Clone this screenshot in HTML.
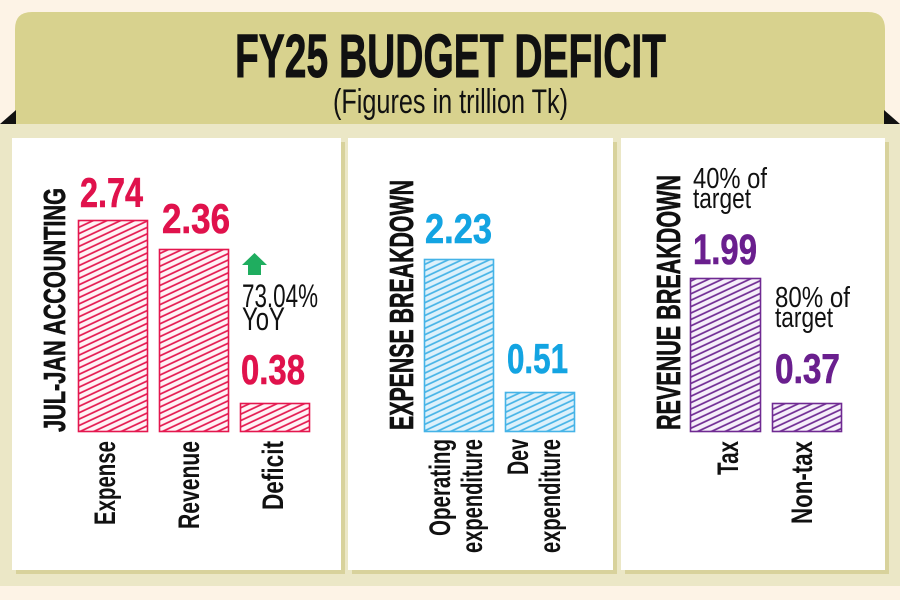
<!DOCTYPE html>
<html>
<head>
<meta charset="utf-8">
<style>
html,body{margin:0;padding:0;background:#fdf3e6;}
svg{display:block;}
.t{font-family:"Liberation Sans Narrow","Liberation Sans",sans-serif;}
</style>
</head>
<body>
<svg width="900" height="600" viewBox="0 0 900 600" xmlns="http://www.w3.org/2000/svg">
<defs>
  <pattern id="hr" patternUnits="userSpaceOnUse" width="12" height="5.8" patternTransform="rotate(-25)">
    <rect width="12" height="5.8" fill="#fff3f6"/>
    <line x1="0" y1="1.5" x2="12" y2="1.5" stroke="#e4174e" stroke-width="1.7"/>
  </pattern>
  <pattern id="hb" patternUnits="userSpaceOnUse" width="12" height="5.8" patternTransform="rotate(-25)">
    <rect width="12" height="5.8" fill="#ddf1fb"/>
    <line x1="0" y1="1.5" x2="12" y2="1.5" stroke="#45b3e7" stroke-width="1.7"/>
  </pattern>
  <pattern id="hp" patternUnits="userSpaceOnUse" width="12" height="5.8" patternTransform="rotate(-25)">
    <rect width="12" height="5.8" fill="#f6effa"/>
    <line x1="0" y1="1.5" x2="12" y2="1.5" stroke="#6f2a92" stroke-width="1.7"/>
  </pattern>
</defs>

<!-- backgrounds -->
<rect x="0" y="0" width="900" height="600" fill="#fdf3e6"/>
<rect x="0" y="124" width="900" height="462" fill="#ebe7c6"/>
<path d="M15 124 L15 29 Q15 12 32 12 L868 12 Q885 12 885 29 L885 124 Z" fill="#d8d28e"/>
<polygon points="0,124 16,124 16,110" fill="#111"/>
<polygon points="884,110 884,124 900,124" fill="#111"/>

<!-- title -->
<text class="t" x="235" y="77" font-size="61" font-weight="bold" fill="#111" stroke="#111" stroke-width="0.9" textLength="431" lengthAdjust="spacingAndGlyphs">FY25 BUDGET DEFICIT</text>
<text class="t" x="333" y="113" font-size="34" fill="#111" textLength="235" lengthAdjust="spacingAndGlyphs">(Figures in trillion Tk)</text>

<!-- panel shadows -->
<rect x="16" y="142" width="329" height="432" fill="#d8d29c"/>
<rect x="352" y="142" width="265" height="432" fill="#d8d29c"/>
<rect x="625" y="142" width="264" height="432" fill="#d8d29c"/>
<!-- panels -->
<rect x="12" y="138" width="329" height="432" fill="#ffffff"/>
<rect x="348" y="138" width="265" height="432" fill="#ffffff"/>
<rect x="621" y="138" width="264" height="432" fill="#ffffff"/>

<!-- ===== Panel 1 ===== -->
<text class="t" transform="translate(65,432) rotate(-90)" font-size="31" font-weight="bold" fill="#111" stroke="#111" stroke-width="0.7" textLength="244" lengthAdjust="spacingAndGlyphs">JUL-JAN ACCOUNTING</text>

<rect x="78.5" y="220.5" width="69" height="211" fill="url(#hr)" stroke="#e4174e" stroke-width="1.6"/>
<rect x="159.5" y="249.5" width="69" height="182" fill="url(#hr)" stroke="#e4174e" stroke-width="1.6"/>
<rect x="240.5" y="403.5" width="69" height="28" fill="url(#hr)" stroke="#e4174e" stroke-width="1.6"/>

<text class="t" x="80" y="207" font-size="42" font-weight="bold" fill="#e0124c" stroke="#e0124c" stroke-width="0.6" textLength="63" lengthAdjust="spacingAndGlyphs">2.74</text>
<text class="t" x="162" y="233" font-size="42" font-weight="bold" fill="#e0124c" stroke="#e0124c" stroke-width="0.6" textLength="68" lengthAdjust="spacingAndGlyphs">2.36</text>
<text class="t" x="241" y="384" font-size="42" font-weight="bold" fill="#e0124c" stroke="#e0124c" stroke-width="0.6" textLength="64" lengthAdjust="spacingAndGlyphs">0.38</text>

<polygon points="242,265 254.5,253 267,265 261,265 261,275 248,275 248,265" fill="#1fad5f"/>
<text class="t" x="242" y="307" font-size="32" fill="#111" textLength="76" lengthAdjust="spacingAndGlyphs">73.04%</text>
<text class="t" x="242" y="330" font-size="32" fill="#111" textLength="43" lengthAdjust="spacingAndGlyphs">YoY</text>

<text class="t" transform="translate(115,441) rotate(-90)" text-anchor="end" font-size="30" font-weight="bold" fill="#111" textLength="84" lengthAdjust="spacingAndGlyphs">Expense</text>
<text class="t" transform="translate(199,441) rotate(-90)" text-anchor="end" font-size="30" font-weight="bold" fill="#111" textLength="88" lengthAdjust="spacingAndGlyphs">Revenue</text>
<text class="t" transform="translate(283,441) rotate(-90)" text-anchor="end" font-size="30" font-weight="bold" fill="#111" textLength="69" lengthAdjust="spacingAndGlyphs">Deficit</text>

<!-- ===== Panel 2 ===== -->
<text class="t" transform="translate(413,430) rotate(-90)" font-size="33" font-weight="bold" fill="#111" stroke="#111" stroke-width="0.7" textLength="250" lengthAdjust="spacingAndGlyphs">EXPENSE BREAKDOWN</text>

<rect x="424.5" y="259.5" width="69" height="172" fill="url(#hb)" stroke="#45b3e7" stroke-width="1.6"/>
<rect x="505.5" y="392.5" width="69" height="39" fill="url(#hb)" stroke="#45b3e7" stroke-width="1.6"/>

<text class="t" x="425" y="243" font-size="42" font-weight="bold" fill="#13a4e2" stroke="#13a4e2" stroke-width="0.6" textLength="67" lengthAdjust="spacingAndGlyphs">2.23</text>
<text class="t" x="507" y="373" font-size="42" font-weight="bold" fill="#13a4e2" stroke="#13a4e2" stroke-width="0.6" textLength="61" lengthAdjust="spacingAndGlyphs">0.51</text>

<text class="t" transform="translate(450,439) rotate(-90)" text-anchor="end" font-size="30" font-weight="bold" fill="#111" textLength="97" lengthAdjust="spacingAndGlyphs">Operating</text>
<text class="t" transform="translate(482,439) rotate(-90)" text-anchor="end" font-size="30" font-weight="bold" fill="#111" textLength="114" lengthAdjust="spacingAndGlyphs">expenditure</text>
<text class="t" transform="translate(528,439) rotate(-90)" text-anchor="end" font-size="30" font-weight="bold" fill="#111" textLength="36" lengthAdjust="spacingAndGlyphs">Dev</text>
<text class="t" transform="translate(560,439) rotate(-90)" text-anchor="end" font-size="30" font-weight="bold" fill="#111" textLength="114" lengthAdjust="spacingAndGlyphs">expenditure</text>

<!-- ===== Panel 3 ===== -->
<text class="t" transform="translate(680,430) rotate(-90)" font-size="33" font-weight="bold" fill="#111" stroke="#111" stroke-width="0.7" textLength="255" lengthAdjust="spacingAndGlyphs">REVENUE BREAKDOWN</text>

<rect x="690.5" y="278.5" width="70" height="153" fill="url(#hp)" stroke="#6f2a92" stroke-width="1.6"/>
<rect x="772.5" y="403.5" width="69" height="28" fill="url(#hp)" stroke="#6f2a92" stroke-width="1.6"/>

<text class="t" x="693" y="188" font-size="29" fill="#111" textLength="74" lengthAdjust="spacingAndGlyphs">40% of</text>
<text class="t" x="693" y="208" font-size="29" fill="#111" textLength="58" lengthAdjust="spacingAndGlyphs">target</text>
<text class="t" x="693" y="264" font-size="43" font-weight="bold" fill="#6a1f8e" stroke="#6a1f8e" stroke-width="0.6" textLength="64" lengthAdjust="spacingAndGlyphs">1.99</text>

<text class="t" x="775" y="307" font-size="29" fill="#111" textLength="75" lengthAdjust="spacingAndGlyphs">80% of</text>
<text class="t" x="775" y="327" font-size="29" fill="#111" textLength="58" lengthAdjust="spacingAndGlyphs">target</text>
<text class="t" x="775" y="383" font-size="42" font-weight="bold" fill="#6a1f8e" stroke="#6a1f8e" stroke-width="0.6" textLength="65" lengthAdjust="spacingAndGlyphs">0.37</text>

<text class="t" transform="translate(738,441) rotate(-90)" text-anchor="end" font-size="30" font-weight="bold" fill="#111" textLength="34" lengthAdjust="spacingAndGlyphs">Tax</text>
<text class="t" transform="translate(812,441) rotate(-90)" text-anchor="end" font-size="30" font-weight="bold" fill="#111" textLength="83" lengthAdjust="spacingAndGlyphs">Non-tax</text>
</svg>
</body>
</html>
